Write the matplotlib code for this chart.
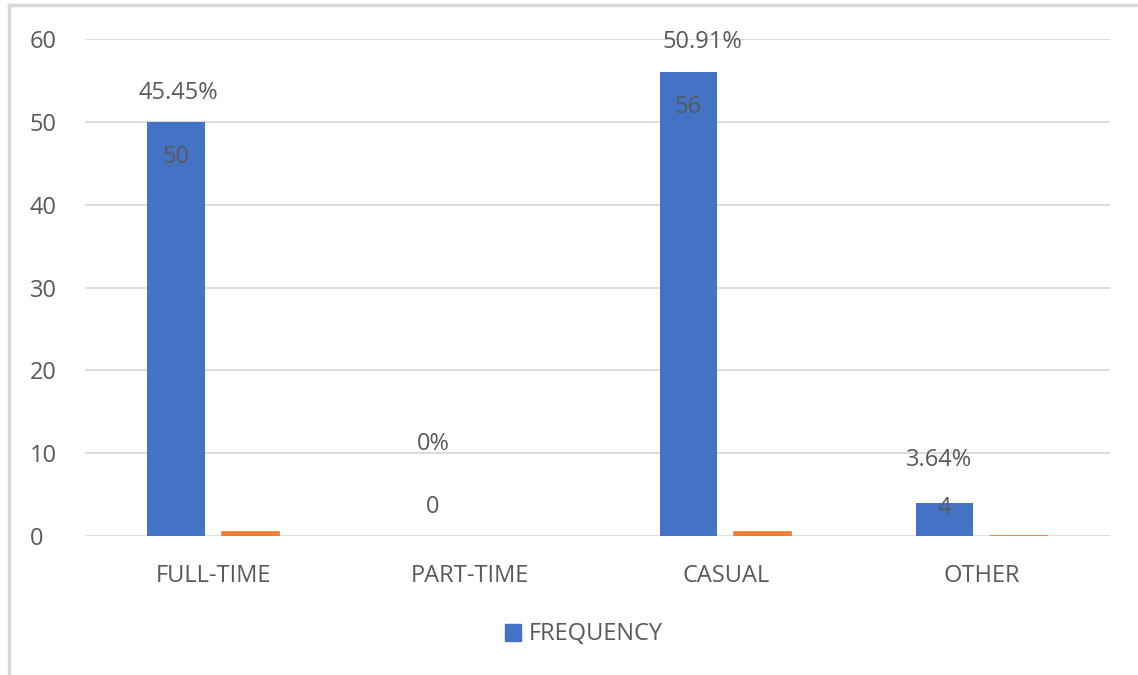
import matplotlib
matplotlib.use("Agg")
import matplotlib.pyplot as plt
from matplotlib.lines import Line2D
from matplotlib.patches import Patch
import numpy as np

categories = ["FULL-TIME", "PART-TIME", "CASUAL", "OTHER"]
frequency = [50, 0, 56, 4]
percentage = [0.4545, 0.0, 0.5091, 0.0364]
pct_labels = ["45.45%", "0%", "50.91%", "3.64%"]
y_ticks = [0, 10, 20, 30, 40, 50, 60]

plt.rcParams['font.family'] = ['Open Sans', 'DejaVu Sans']
TXT = "#595959"
BLUE = "#4472C4"
ORANGE = "#ED7D31"
FS = 17

fig = plt.figure(figsize=(11.38, 6.75), dpi=100)
ax = fig.add_axes([0.0747, 0.2059, 0.9007, 0.7363])

x = np.arange(len(categories))
w = 0.223
off = 0.145
ax.bar(x - off, frequency, w, color=BLUE, zorder=3)
ax.bar(x + off, percentage, w, color=ORANGE, edgecolor=ORANGE,
       linewidth=[1.2 if v > 0 else 0 for v in percentage], zorder=3)

ax.set_xlim(-0.5, len(categories) - 0.5)
ax.set_ylim(0, 60)
ax.set_yticks(y_ticks)
ax.set_xticks(x)
ax.set_xticklabels(categories)
ax.tick_params(axis='both', length=0, labelsize=FS, labelcolor=TXT)
ax.tick_params(axis='x', pad=20)
ax.tick_params(axis='y', pad=40)
for lbl in ax.get_yticklabels():
    lbl.set_horizontalalignment('left')
ax.grid(axis='y', color='#D9D9D9', linewidth=1.3, zorder=0)
for s in ax.spines.values():
    s.set_visible(False)

# value labels (inside end) and percent labels (above), positioned like the original
val_offsets = [-25, 21, -25, -4]   # points relative to bar top
pct_offsets = [21, 66.5, 22, 31]
pct_dx = [2, 1, 10, -4]
for i, (v, p) in enumerate(zip(frequency, pct_labels)):
    ax.annotate(str(v), (x[i] - off, v), xytext=(0, val_offsets[i]), textcoords='offset points',
                ha='center', va='center', fontsize=FS, color=TXT, zorder=5)
    ax.annotate(p, (x[i] - off, v), xytext=(pct_dx[i], pct_offsets[i]), textcoords='offset points',
                ha='center', va='center', fontsize=FS, color=TXT, zorder=5)

leg = fig.legend(handles=[Patch(color=BLUE, label="FREQUENCY")], loc='center',
                 bbox_to_anchor=(0.513, 0.06), frameon=False, fontsize=FS,
                 handlelength=0.7, handleheight=0.7, handletextpad=0.3)
for t in leg.get_texts():
    t.set_color(TXT)

# chart border (left and top visible)
fig.add_artist(Line2D([0.0075, 0.0075], [0, 0.993], transform=fig.transFigure, color='#D9D9D9', lw=2.5))
fig.add_artist(Line2D([0.0075, 1.0], [0.993, 0.993], transform=fig.transFigure, color='#D9D9D9', lw=2.5))

fig.savefig("out.png", dpi=100)
